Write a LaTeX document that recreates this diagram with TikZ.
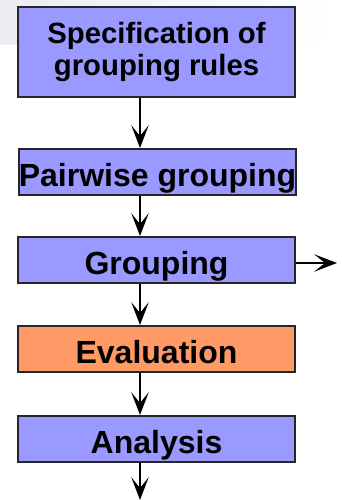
\documentclass[tikz,border=0pt]{standalone}
\usepackage{fontspec}
\setmainfont{Liberation Sans}
\usetikzlibrary{arrows.meta}
\definecolor{stepblue}{RGB}{153, 153, 255}
\definecolor{steporange}{RGB}{255, 153, 102}
\definecolor{slidegray}{RGB}{236, 236, 240}

\begin{document}
\begin{tikzpicture}[x=0.75pt, y=-0.75pt,
  boxbase/.style={draw=black!85, line width=1.5pt, fill=stepblue, minimum width=207.75pt, minimum height=34.5pt, inner sep=0pt, align=center},
  stepbox/.style={boxbase, text height=21pt, text depth=0pt, font=\fontsize{24}{23}\selectfont\bfseries},
  specbox/.style={boxbase, minimum height=67.5pt, font=\fontsize{22}{23.5}\selectfont\bfseries},
  flow/.style={line width=1.9pt, -{Stealth[length=17pt, width=13pt, inset=8pt]}}]
\useasboundingbox (0,0) rectangle (342,500);
% faded slide background
\shade[left color=slidegray, right color=white] (0,0) rectangle (330,44);
\coordinate (axis) at (140,0);
\node[specbox] (spec) at (156.5,52) {Specification of\\grouping rules};
\node[stepbox] (pair) at (157.5,172) {Pairwise grouping};
\node[stepbox] (group) at (156.5,260) {Grouping};
\node[stepbox, fill=steporange] (eval) at (156.5,349) {Evaluation};
\node[stepbox] (anal) at (156.5,439) {Analysis};
\coordinate (out) at (337,263);
\coordinate (end) at (140,500);
\draw[flow] (spec.south -| axis) -- (pair.north -| axis);
\draw[flow] (pair.south -| axis) -- (group.north -| axis);
\draw[flow] (group.south -| axis) -- (eval.north -| axis);
\draw[flow] (eval.south -| axis) -- (anal.north -| axis);
\draw[flow] (anal.south -| axis) -- (end);
\draw[flow] (group.east |- out) -- (out);
\end{tikzpicture}
\end{document}
